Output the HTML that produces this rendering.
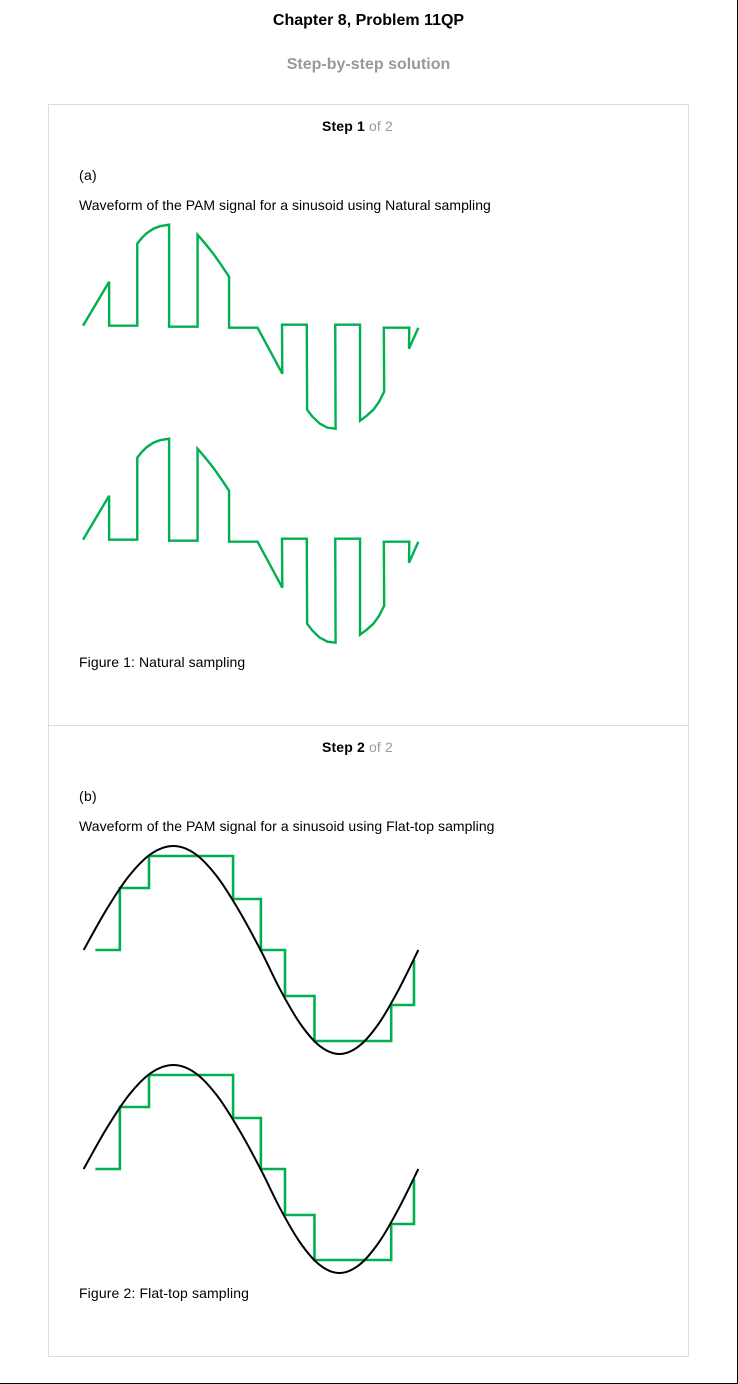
<!DOCTYPE html>
<html lang="en">
<head>
<meta charset="utf-8">
<title>Chapter 8, Problem 11QP</title>
<style>
html,body{margin:0;padding:0;background:#fff;}
body{width:738px;height:1384px;position:relative;overflow:hidden;font-family:"Liberation Sans",Arial,sans-serif;color:#000;}
.t{position:absolute;white-space:nowrap;font-size:14px;line-height:16px;}
.c{left:0;width:737px;text-align:center;}
.b{font-weight:bold;}
.g{color:#999;}
.step{left:322px;font-size:14px;letter-spacing:.15px;}
#page-edge-right{position:absolute;left:737px;top:0;width:1px;height:1384px;background:#000;}
#page-edge-bottom{position:absolute;left:0;top:1383px;width:738px;height:1px;background:#000;}
#card{position:absolute;left:48px;top:104px;width:639px;height:1251px;border:1px solid #ddd;}
#divider{position:absolute;left:49px;top:725px;width:639px;height:1px;background:#ddd;}
svg{position:absolute;left:0;top:0;}
</style>
</head>
<body>
<div id="page-edge-right"></div>
<div id="page-edge-bottom"></div>
<div class="t c b" style="top:13px;font-size:16px">Chapter 8, Problem 11QP</div>
<div class="t c b g" style="top:55px;font-size:16px;padding-top:2px">Step-by-step solution</div>
<div id="card"></div>
<div id="divider"></div>

<div class="t step" style="top:118px"><span class="b">Step 1</span> <span class="g">of 2</span></div>
<div class="t" style="left:79px;top:167px;letter-spacing:.3px">(a)</div>
<div class="t" style="left:79px;top:197px;letter-spacing:.04px">Waveform of the PAM signal for a sinusoid using Natural sampling</div>
<div class="t" style="left:79px;top:654px;letter-spacing:.08px">Figure 1: Natural sampling</div>

<div class="t step" style="top:739px"><span class="b">Step 2</span> <span class="g">of 2</span></div>
<div class="t" style="left:79px;top:788px;letter-spacing:.3px">(b)</div>
<div class="t" style="left:79px;top:818px;letter-spacing:.06px">Waveform of the PAM signal for a sinusoid using Flat-top sampling</div>
<div class="t" style="left:79px;top:1285px;letter-spacing:.13px">Figure 2: Flat-top sampling</div>

<svg id="plots" width="738" height="1384" viewBox="0 0 738 1384"></svg>

<script>
// Natural-sampling PAM waveform (time, amplitude)
const naturalTime = [0,0.78,0.78,1.62,1.62,1.75,1.90,2.10,2.30,2.57,2.57,3.42,3.42,3.65,3.89,4.12,4.36,4.36,5.21,5.95,5.94,6.68,6.69,6.85,7.07,7.30,7.54,7.53,8.27,8.27,8.47,8.67,8.84,8.99,8.98,9.74,9.73,10.01];
const naturalValues = [0,0.44,0,0,0.82,0.875,0.925,0.97,0.995,1.01,-0.01,-0.01,0.91,0.82,0.72,0.61,0.49,-0.02,-0.02,-0.48,0.01,0.01,-0.84,-0.91,-0.98,-1.02,-1.03,0.01,0.01,-0.95,-0.90,-0.84,-0.76,-0.66,-0.02,-0.02,-0.23,-0.02];

// Message sinusoid (time, amplitude)
const sineTime = [0.02,0.69,1.36,2.03,2.70,3.35,4.00,4.65,5.30,5.89,6.48,7.07,7.655,8.24,8.83,9.42,10.01];
const sineValues = [0,0.398,0.735,0.961,1.04,0.961,0.735,0.398,0,-0.398,-0.735,-0.961,-1.04,-0.961,-0.735,-0.398,0];

// Flat-top sample-and-hold: edges in time, level held between consecutive edges
const holdEdges = [0.37,1.10,1.97,4.48,5.31,6.03,6.91,9.20,9.88];
const holdLevels = [0,0.62,0.94,0.51,0,-0.46,-0.91,-0.55];
const holdFinalLevel = -0.10;

const xScale = function (t) { return 83 + t * 33.5; };
const yScaleFor = function (zeroY) {
  return function (v) { return zeroY - v * 100; };
};

const svg = document.getElementById('plots');
const NS = 'http://www.w3.org/2000/svg';

function addPath(d, stroke, width, name) {
  const p = document.createElementNS(NS, 'path');
  p.setAttribute('d', d);
  p.setAttribute('fill', 'none');
  p.setAttribute('stroke', stroke);
  p.setAttribute('stroke-width', width);
  p.setAttribute('stroke-linejoin', 'miter');
  p.setAttribute('stroke-miterlimit', '3');
  
  
  svg.appendChild(p);
}

function polyline(times, values, y) {
  return times.map(function (t, i) {
    return (i ? 'L' : 'M') + xScale(t).toFixed(2) + ' ' + y(values[i]).toFixed(2);
  }).join('');
}

function smoothCurve(times, values, y) {
  const px = times.map(xScale);
  const py = values.map(y);
  let d = 'M' + px[0].toFixed(2) + ' ' + py[0].toFixed(2);
  for (let i = 0; i < px.length - 1; i++) {
    const a = Math.max(i - 1, 0), b = Math.min(i + 2, px.length - 1);
    d += 'C' + (px[i] + (px[i + 1] - px[a]) / 6).toFixed(2) + ' ' + (py[i] + (py[i + 1] - py[a]) / 6).toFixed(2) +
         ' ' + (px[i + 1] - (px[b] - px[i]) / 6).toFixed(2) + ' ' + (py[i + 1] - (py[b] - py[i]) / 6).toFixed(2) +
         ' ' + px[i + 1].toFixed(2) + ' ' + py[i + 1].toFixed(2);
  }
  return d;
}

function stairs(edges, levels, finalLevel, y) {
  let d = 'M' + xScale(edges[0]).toFixed(2) + ' ' + y(levels[0]).toFixed(2);
  levels.forEach(function (level, i) {
    d += 'L' + xScale(edges[i + 1]).toFixed(2) + ' ' + y(level).toFixed(2);
    const next = i + 1 < levels.length ? levels[i + 1] : finalLevel;
    d += 'L' + xScale(edges[i + 1]).toFixed(2) + ' ' + y(next).toFixed(2);
  });
  return d;
}

const green = '#00b050';
addPath(polyline(naturalTime, naturalValues, yScaleFor(325.7)), green, 2.4, 'natural-pam-waveform-top');
addPath(polyline(naturalTime, naturalValues, yScaleFor(539.7)), green, 2.4, 'natural-pam-waveform-bottom');

addPath(stairs(holdEdges, holdLevels, holdFinalLevel, yScaleFor(950)), green, 2.6, 'flat-top-waveform-top');
addPath(smoothCurve(sineTime, sineValues, yScaleFor(950)), '#000', 2, 'sinusoid-top');
addPath(stairs(holdEdges, holdLevels, holdFinalLevel, yScaleFor(1169)), green, 2.6, 'flat-top-waveform-bottom');
addPath(smoothCurve(sineTime, sineValues, yScaleFor(1169)), '#000', 2, 'sinusoid-bottom');
</script>
</body>
</html>
